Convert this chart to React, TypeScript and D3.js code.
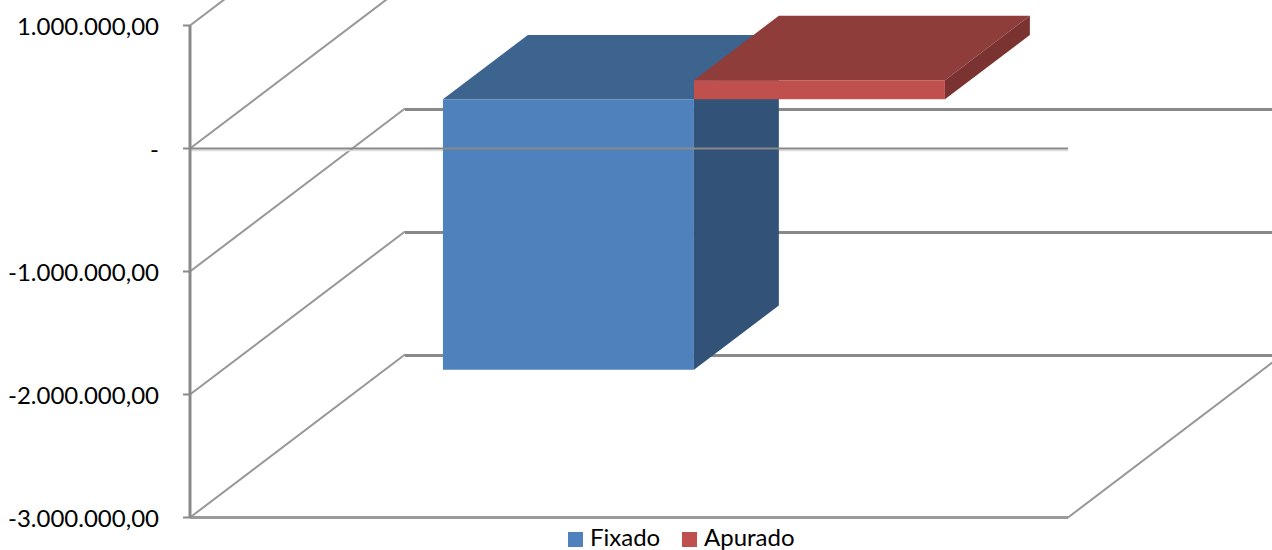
import React from "react";
import * as d3 from "d3";

const seriesNames = ["Fixado", "Apurado"];
const seriesValues = [-2200000, 155000];
const seriesFront = ["#4f81bd", "#c0504d"];
const seriesTop = ["#3d638f", "#8f3d3a"];
const seriesSide = ["#325278", "#7b3331"];
const tickValues = [1000000, 0, -1000000, -2000000, -3000000];
const tickLabels = ["1.000.000,00", "-", "-1.000.000,00", "-2.000.000,00", "-3.000.000,00"];

const W = 1272;
const H = 550;
const axisX = 190;
const floorRight = 1068;
const wallDx = 215;
const wallDy = -163;
const barPlane = 0.302; // front of bars, as a fraction of the chart depth
const barDepth = 0.395; // depth of bars, as a fraction of the chart depth
const lineCol = "#898989";
const diagCol = "#979797";

const y = d3.scaleLinear().domain([-3000000, 1000000]).range([517.5, 25.5]);
const x = d3.scaleBand<string>().domain(seriesNames).range([axisX, floorRight]).paddingInner(0).paddingOuter(0.749);

const pt = (px: number, py: number, depth: number): [number, number] => [px + wallDx * depth, py + wallDy * depth];
const poly = (pts: [number, number][]) => (d3.line()(pts) ?? "") + "Z";

export default function App() {
  const fontFamily = "Lato, Carlito, sans-serif";
  return (
    <svg width={W} height={H} viewBox={`0 0 ${W} ${H}`} style={{ position: "absolute", left: 0, top: 0, display: "block", background: "#fff" }}>
      {/* back wall gridlines and side-wall diagonals */}
      {tickValues.map((t) => {
        const a = pt(axisX, y(t), 0);
        const b = pt(axisX, y(t), 1);
        return (
          <g key={t} fill="none">
            <line x1={a[0]} y1={a[1]} x2={b[0]} y2={b[1]} stroke={diagCol} strokeWidth={2} />
            <line x1={b[0]} y1={b[1] + 1} x2={W + 5} y2={b[1] + 1} stroke={lineCol} strokeWidth={3} />
          </g>
        );
      })}
      {(() => {
        const a = pt(floorRight, y(-3000000), 0);
        const b = pt(floorRight, y(-3000000), 1);
        return <line x1={a[0]} y1={a[1]} x2={b[0]} y2={b[1]} stroke={diagCol} strokeWidth={2} />;
      })()}
      <line x1={axisX} x2={floorRight} y1={y(0) + 2} y2={y(0) + 2} stroke="#dcdcdc" strokeWidth={1.5} />

      {/* bars */}
      {seriesNames.map((name, i) => {
        const x0 = x(name)!;
        const x1 = x0 + x.bandwidth();
        const zeroY = y(0);
        const valY = y(seriesValues[i]);
        const topRaw = Math.min(zeroY, valY);
        const botRaw = Math.max(zeroY, valY);
        const fl = pt(x0, topRaw, barPlane);
        const fr = pt(x1, topRaw, barPlane);
        const br = pt(x1, botRaw, barPlane);
        const bl = pt(x0, botRaw, barPlane);
        const d = barPlane + barDepth;
        const tl2 = pt(x0, topRaw, d);
        const tr2 = pt(x1, topRaw, d);
        const br2 = pt(x1, botRaw, d);
        return (
          <g key={name}>
            <path d={poly([fl, fr, tr2, tl2])} fill={seriesTop[i]} />
            <path d={poly([fr, tr2, br2, br])} fill={seriesSide[i]} />
            <path d={poly([fl, fr, br, bl])} fill={seriesFront[i]} />
          </g>
        );
      })}

      {/* front plane: zero line, floor front, value axis */}
      <line x1={axisX} x2={floorRight} y1={y(0)} y2={y(0)} stroke={lineCol} strokeWidth={2} />
      <line x1={axisX} x2={floorRight} y1={y(-3000000)} y2={y(-3000000)} stroke="#9a9a9a" strokeWidth={3} />
      <line x1={axisX} x2={axisX} y1={y(1000000)} y2={y(-3000000)} stroke={lineCol} strokeWidth={3} />
      {tickValues.map((t, i) => (
        <g key={t}>
          <line x1={183} x2={axisX} y1={y(t)} y2={y(t)} stroke={lineCol} strokeWidth={2} />
          <text x={159} y={y(t) + 9} textAnchor="end" fontFamily={fontFamily} fontSize={24} fill="#000">
            {tickLabels[i]}
          </text>
        </g>
      ))}

      {/* legend */}
      <g fontFamily={fontFamily} fontSize={24} fill="#000">
        <rect x={568} y={532} width={15} height={15} fill={seriesFront[0]} />
        <text x={590} y={545.5}>{seriesNames[0]}</text>
        <rect x={682} y={532} width={15} height={15} fill={seriesFront[1]} />
        <text x={704} y={545.5}>{seriesNames[1]}</text>
      </g>
    </svg>
  );
}
